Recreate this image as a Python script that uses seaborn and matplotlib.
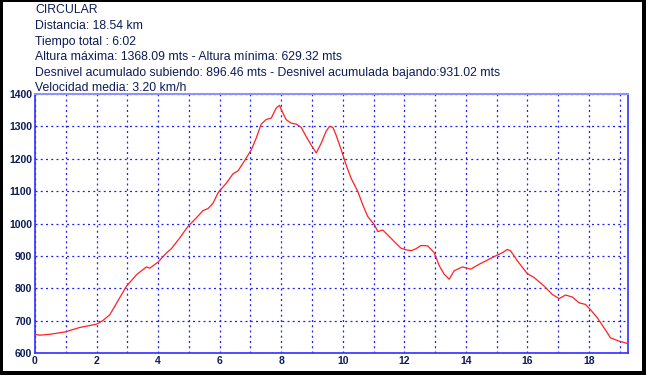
import matplotlib
matplotlib.use("Agg")
import matplotlib.pyplot as plt
from matplotlib.patches import Rectangle
from matplotlib.ticker import MultipleLocator
import pandas as pd
import seaborn as sns

# perfil de la ruta (km, altura en m)
distancia_km = [0.0, 0.15, 0.5, 0.97, 1.46, 2.0, 2.2, 2.43, 2.65, 2.97,
                3.3, 3.62, 3.73, 3.9, 4.0, 4.27, 4.43, 4.7, 4.97, 5.24,
                5.46, 5.62, 5.78, 5.95, 6.0, 6.22, 6.43, 6.6, 6.81, 7.03,
                7.19, 7.35, 7.51, 7.68, 7.84, 7.95, 8.0, 8.16, 8.32, 8.49,
                8.65, 8.81, 8.97, 9.14, 9.3, 9.46, 9.57, 9.68, 9.78, 9.95,
                10.11, 10.27, 10.49, 10.65, 10.81, 11.03, 11.14, 11.3, 11.51, 11.73,
                11.89, 12.05, 12.22, 12.38, 12.54, 12.76, 12.97, 13.14, 13.3, 13.46,
                13.62, 13.89, 14.16, 14.43, 14.7, 14.97, 15.19, 15.35, 15.46, 15.68,
                16.0, 16.22, 16.54, 16.81, 17.03, 17.24, 17.46, 17.68, 17.89, 18.05,
                18.27, 18.49, 18.7, 18.97, 19.27]
altura_m = [658, 655, 658, 665, 679, 689, 700, 718, 754, 806,
            842, 866, 862, 874, 881, 909, 922, 955, 991, 1017,
            1040, 1046, 1062, 1095, 1101, 1125, 1153, 1163, 1194, 1228,
            1264, 1307, 1321, 1326, 1357, 1365, 1352, 1321, 1310, 1307,
            1297, 1269, 1243, 1218, 1248, 1285, 1300, 1297, 1274, 1228,
            1181, 1140, 1099, 1058, 1022, 996, 975, 980, 960, 939,
            924, 919, 916, 922, 932, 931, 910, 869, 843, 828,
            854, 866, 859, 874, 887, 900, 910, 920, 915, 884,
            845, 833, 807, 781, 768, 779, 773, 755, 750, 734,
            709, 678, 647, 637, 629]

cabecera = [
    "CIRCULAR",
    "Distancia: 18.54 km",
    "Tiempo total : 6:02",
    "Altura máxima: 1368.09 mts - Altura mínima: 629.32 mts",
    "Desnivel acumulado subiendo: 896.46 mts - Desnivel acumulada bajando:931.02 mts",
    "Velocidad media: 3.20 km/h",
]
cabecera_y = [10, 26, 42, 57, 73, 88]

xticks = [0, 2, 4, 6, 8, 10, 12, 14, 16, 18]
yticks = [600, 700, 800, 900, 1000, 1100, 1200, 1300, 1400]

df = pd.DataFrame({"km": distancia_km, "altura": altura_m})

sns.set_style("white")
plt.rcParams["font.family"] = ["Liberation Sans", "DejaVu Sans"]

W, H = 646, 375
navy = "#0c1c55"

fig = plt.figure(figsize=(W / 100, H / 100), dpi=100, facecolor="black")
fig.patches.append(Rectangle((3 / W, 4 / H), 639 / W, 369 / H,
                             transform=fig.transFigure, facecolor="white",
                             edgecolor="none", zorder=-5))

ax = fig.add_axes([35 / W, 1 - 353 / H, (628 - 35) / W, (353 - 94) / H])
ax.set_zorder(2)
ax.set_facecolor("white")

sns.lineplot(data=df, x="km", y="altura", ax=ax, color="#ff2020",
             linewidth=0.9, zorder=3)

ax.set_xlim(0, 19.27)
ax.set_ylim(600, 1400)
ax.set_xticks(xticks)
ax.set_yticks(yticks)
ax.xaxis.set_minor_locator(MultipleLocator(1))
ax.grid(True, which="both", color="#2020ff", linestyle=(0, (1.6, 2.6)), linewidth=0.9)
ax.tick_params(which="both", length=0, pad=2, labelsize=7.5, labelcolor=navy)
for lab in ax.get_xticklabels() + ax.get_yticklabels():
    lab.set_fontweight("bold")
ax.set_xlabel("")
ax.set_ylabel("")

for side in ["left", "bottom", "right"]:
    ax.spines[side].set_color("#3030ff")
    ax.spines[side].set_linewidth(1.2)
ax.spines["top"].set_color("#9090ff")
ax.spines["top"].set_linewidth(1.5)

for texto, y in zip(cabecera, cabecera_y):
    fig.text(35 / W, 1 - y / H, texto, fontsize=8.8, color=navy, va="center",
             ha="left", zorder=3)

fig.savefig("out.png", dpi=100, facecolor="black")
